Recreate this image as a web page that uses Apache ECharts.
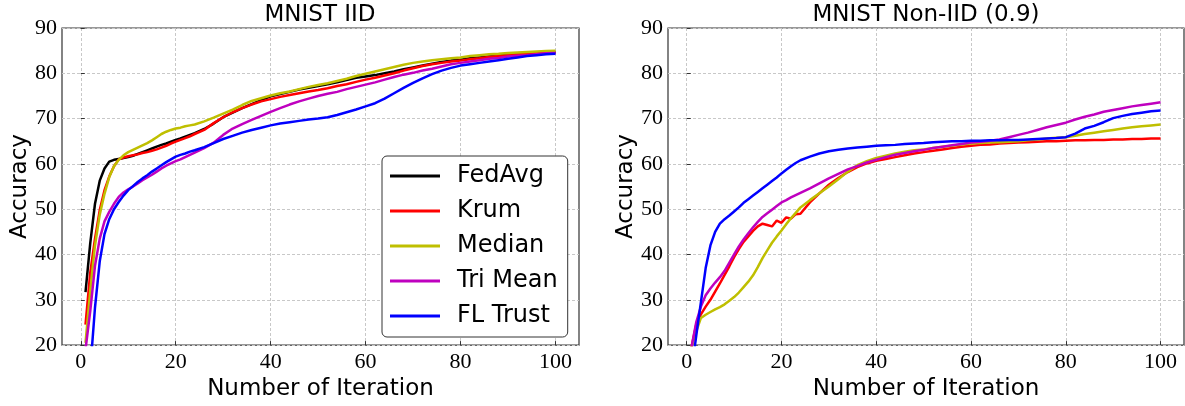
<!DOCTYPE html>
<html>
<head>
<meta charset="utf-8">
<script src="https://cdn.jsdelivr.net/npm/echarts@6.0.0/dist/echarts.min.js"></script>
<style>
  html, body { margin: 0; padding: 0; background: #fff; }
  #chart { width: 1185px; height: 406px; }
</style>
</head>
<body>
<div id="chart"></div>
<script>
// iterations (every round up to 24, then every other round)
const iters = [1, 2, 3, 4, 5, 6, 7, 8, 9, 10, 11, 12, 13, 14, 15, 16, 17, 18, 19, 20, 21, 22, 23, 24,
  26, 28, 30, 32, 34, 36, 38, 40, 42, 44, 46, 48, 50, 52, 54, 56, 58, 60, 62, 64, 66, 68, 70, 72, 74, 76, 78, 80,
  82, 84, 86, 88, 90, 92, 94, 96, 98, 100]
const xTicks = [0, 20, 40, 60, 80, 100]

// MNIST IID
const iidFedAvg = [31.7, 42.5, 51.2, 56.3, 59.0, 60.5, 60.9, 61.1, 61.3, 61.5, 61.8, 62.2, 62.6, 63.0, 63.4, 63.8, 64.2, 64.5, 64.9, 65.3, 65.6, 66.0, 66.4, 66.8,
  67.7, 68.9, 70.3, 71.3, 72.3, 73.2, 74.1, 74.9, 75.4, 75.9, 76.4, 76.8, 77.2, 77.6, 78.0, 78.5, 79.0, 79.3, 79.6, 80.0, 80.4, 80.9, 81.3, 81.7, 82.1, 82.5, 82.8, 83.0,
  83.3, 83.5, 83.7, 83.9, 84.1, 84.3, 84.4, 84.5, 84.6, 84.7]
const iidKrum = [24.5, 36.0, 43.5, 49.8, 54.2, 57.2, 59.5, 61.0, 61.4, 61.7, 61.9, 62.1, 62.4, 62.6, 62.9, 63.2, 63.6, 64.0, 64.5, 64.9, 65.3, 65.7, 66.1, 66.6,
  67.5, 69.0, 70.3, 71.4, 72.3, 73.1, 73.8, 74.3, 74.8, 75.2, 75.6, 76.0, 76.3, 76.7, 77.2, 77.6, 78.1, 78.6, 79.0, 79.5, 80.0, 80.6, 81.1, 81.6, 82.0, 82.3, 82.6, 82.8,
  83.1, 83.3, 83.6, 83.8, 84.0, 84.2, 84.3, 84.4, 84.5, 84.6]
const iidMedian = [20.5, 32.0, 42.0, 48.8, 53.4, 57.1, 59.5, 60.9, 61.9, 62.6, 63.1, 63.6, 64.1, 64.6, 65.2, 65.9, 66.6, 67.1, 67.5, 67.8, 68.0, 68.3, 68.5, 68.7,
  69.4, 70.2, 71.1, 72.0, 73.0, 73.9, 74.5, 75.1, 75.6, 76.0, 76.5, 77.0, 77.4, 77.8, 78.3, 78.8, 79.4, 79.9, 80.4, 80.9, 81.4, 81.9, 82.3, 82.6, 82.9, 83.1, 83.3, 83.5,
  83.8, 84.0, 84.2, 84.3, 84.5, 84.6, 84.7, 84.8, 84.9, 85.0]
const iidTriMean = [19.0, 27.5, 37.5, 43.5, 47.3, 49.4, 51.2, 52.7, 53.7, 54.4, 55.0, 55.7, 56.4, 57.0, 57.6, 58.3, 59.0, 59.6, 60.1, 60.6, 61.0, 61.5, 62.0, 62.5,
  63.5, 64.7, 66.4, 67.8, 68.8, 69.7, 70.6, 71.5, 72.3, 73.1, 73.8, 74.4, 75.0, 75.5, 75.9, 76.5, 77.0, 77.5, 78.0, 78.6, 79.2, 79.7, 80.1, 80.6, 81.0, 81.5, 82.0, 82.3,
  82.6, 82.9, 83.2, 83.4, 83.7, 83.9, 84.0, 84.2, 84.4, 84.5]
const iidFLTrust = [10.0, 14.5, 28.3, 38.5, 44.5, 47.8, 50.0, 51.6, 53.0, 54.2, 55.1, 56.0, 56.8, 57.5, 58.3, 59.0, 59.7, 60.4, 61.0, 61.6, 62.0, 62.3, 62.7, 63.0,
  63.7, 64.6, 65.5, 66.2, 66.9, 67.5, 68.0, 68.5, 68.9, 69.2, 69.5, 69.8, 70.0, 70.3, 70.8, 71.4, 72.0, 72.7, 73.4, 74.4, 75.6, 76.8, 77.9, 78.9, 79.8, 80.6, 81.2, 81.7,
  82.0, 82.3, 82.6, 82.9, 83.2, 83.5, 83.8, 84.0, 84.2, 84.3]

// MNIST Non-IID (0.9)
const nonKrum = [19.5, 24.5, 26.8, 28.5, 30.0, 31.8, 33.6, 35.5, 37.4, 39.4, 41.2, 42.8, 44.0, 45.2, 46.2, 46.8, 46.5, 46.2, 47.5, 47.0, 48.2, 47.9, 48.9, 49.0,
  51.5, 53.5, 55.4, 56.9, 58.2, 59.3, 60.1, 60.7, 61.1, 61.5, 61.9, 62.3, 62.6, 62.9, 63.2, 63.5, 63.8, 64.0, 64.2, 64.3, 64.5, 64.6, 64.7, 64.8, 64.9, 65.0, 65.0, 65.1,
  65.2, 65.2, 65.3, 65.3, 65.4, 65.4, 65.5, 65.5, 65.6, 65.6]
const nonMedian = [19.5, 23.0, 26.0, 26.7, 27.3, 27.9, 28.4, 29.0, 29.8, 30.6, 31.6, 32.8, 34.0, 35.4, 37.2, 39.2, 40.9, 42.6, 44.0, 45.3, 46.7, 48.0, 49.2, 50.4,
  52.0, 53.5, 55.0, 56.6, 58.3, 59.7, 60.6, 61.3, 61.8, 62.3, 62.7, 63.0, 63.2, 63.5, 63.8, 64.0, 64.3, 64.5, 64.6, 64.7, 64.8, 64.9, 65.0, 65.2, 65.4, 65.6, 65.8, 65.9,
  66.2, 66.6, 66.9, 67.2, 67.5, 67.8, 68.1, 68.3, 68.5, 68.7]
const nonTriMean = [19.5, 25.0, 28.5, 31.0, 32.5, 33.8, 35.0, 36.4, 38.2, 40.0, 41.8, 43.3, 44.7, 46.0, 47.2, 48.3, 49.1, 49.9, 50.7, 51.5, 52.0, 52.6, 53.1, 53.6,
  54.6, 55.7, 56.8, 57.8, 58.8, 59.5, 60.3, 60.9, 61.5, 62.0, 62.4, 62.8, 63.1, 63.5, 63.8, 64.1, 64.4, 64.7, 64.9, 65.1, 65.4, 65.9, 66.4, 66.9, 67.5, 68.1, 68.6, 69.1,
  69.8, 70.4, 70.9, 71.5, 71.9, 72.3, 72.7, 73.0, 73.3, 73.6]
const nonFLTrust = [14.0, 22.0, 29.5, 37.0, 42.0, 45.0, 46.8, 47.8, 48.6, 49.5, 50.4, 51.4, 52.2, 53.0, 53.8, 54.6, 55.4, 56.2, 57.0, 57.9, 58.7, 59.5, 60.2, 60.8,
  61.6, 62.3, 62.8, 63.1, 63.4, 63.6, 63.8, 64.0, 64.1, 64.2, 64.4, 64.5, 64.6, 64.8, 64.9, 65.0, 65.0, 65.1, 65.1, 65.2, 65.2, 65.3, 65.3, 65.4, 65.5, 65.6, 65.7, 65.9,
  66.7, 67.8, 68.4, 69.2, 70.1, 70.6, 71.0, 71.3, 71.6, 71.8]

const colors = { 'FedAvg': '#000000', 'Krum': '#ff0000', 'Median': '#bfbf00', 'Tri Mean': '#bf00bf', 'FL Trust': '#0000ff' }

function pairs(vals) {
  return iters.map((x, i) => [x, vals[i]])
}

function line(name, vals, idx) {
  return {
    name: name,
    type: 'line',
    xAxisIndex: idx,
    yAxisIndex: idx,
    data: pairs(vals),
    showSymbol: false,
    symbol: 'none',
    clip: true,
    color: colors[name],
    lineStyle: { width: 2.5, color: colors[name] }
  }
}

const chart = echarts.init(document.getElementById('chart'), null, { renderer: 'canvas' })

const tickFont = { fontFamily: 'Liberation Serif', fontSize: 22, color: '#000' }
const nameFont = { fontFamily: 'DejaVu Sans', fontSize: 23, color: '#000' }
const grid = { color: '#c8c8c8', width: 1, type: [3, 2] }

function xAxis(idx) {
  return {
    type: 'value',
    gridIndex: idx,
    min: -3.95,
    max: 104.95,
    name: 'Number of Iteration',
    nameLocation: 'middle',
    nameGap: 32,
    nameTextStyle: nameFont,
    axisLine: { show: false },
    axisTick: { show: true, inside: true, length: 4, customValues: xTicks, lineStyle: { color: '#333', width: 1 } },
    axisLabel: { margin: 6, customValues: xTicks, ...tickFont },
    splitLine: { show: true, lineStyle: grid }
  }
}

function yAxis(idx) {
  return {
    type: 'value',
    gridIndex: idx,
    min: 20,
    max: 90,
    interval: 10,
    name: 'Accuracy',
    nameLocation: 'middle',
    nameGap: 28,
    nameTextStyle: nameFont,
    axisLine: { show: false },
    axisTick: { show: true, inside: true, length: 4, lineStyle: { color: '#333', width: 1 } },
    axisLabel: { margin: 5, ...tickFont },
    splitLine: { show: true, lineStyle: grid }
  }
}

const option = {
  animation: false,
  backgroundColor: '#fff',
  title: [
    { text: 'MNIST IID', left: 320, top: 4, padding: 0, textAlign: 'center',
      textStyle: { fontFamily: 'DejaVu Sans', fontSize: 23, fontWeight: 'normal', color: '#000' } },
    { text: 'MNIST Non-IID (0.9)', left: 926, top: 4, padding: 0, textAlign: 'center',
      textStyle: { fontFamily: 'DejaVu Sans', fontSize: 23, fontWeight: 'normal', color: '#000' } }
  ],
  legend: {
    data: ['FedAvg', 'Krum', 'Median', 'Tri Mean', 'FL Trust'],
    orient: 'vertical',
    left: 382,
    top: 156,
    padding: [7, 10, 8, 8],
    itemWidth: 50,
    itemHeight: 3,
    itemGap: 9,
    icon: 'rect',
    backgroundColor: '#fff',
    borderColor: '#333',
    borderWidth: 1,
    borderRadius: 5,
    textStyle: { fontFamily: 'DejaVu Sans', fontSize: 24, color: '#000', lineHeight: 26, padding: [0, 0, 0, 12] }
  },
  grid: [
    { left: 62, top: 28, width: 517, height: 322, show: true, borderColor: '#333', borderWidth: 1.2, backgroundColor: 'transparent' },
    { left: 668, top: 28, width: 516, height: 322, show: true, borderColor: '#333', borderWidth: 1.2, backgroundColor: 'transparent' }
  ],
  xAxis: [xAxis(0), xAxis(1)],
  yAxis: [yAxis(0), yAxis(1)],
  series: [
    line('FedAvg', iidFedAvg, 0),
    line('Krum', iidKrum, 0),
    line('Median', iidMedian, 0),
    line('Tri Mean', iidTriMean, 0),
    line('FL Trust', iidFLTrust, 0),
    line('Krum', nonKrum, 1),
    line('Median', nonMedian, 1),
    line('Tri Mean', nonTriMean, 1),
    line('FL Trust', nonFLTrust, 1)
  ]
}

chart.setOption(option)
window.addEventListener('resize', function() {
  chart.resize()
})
</script>
</body>
</html>
